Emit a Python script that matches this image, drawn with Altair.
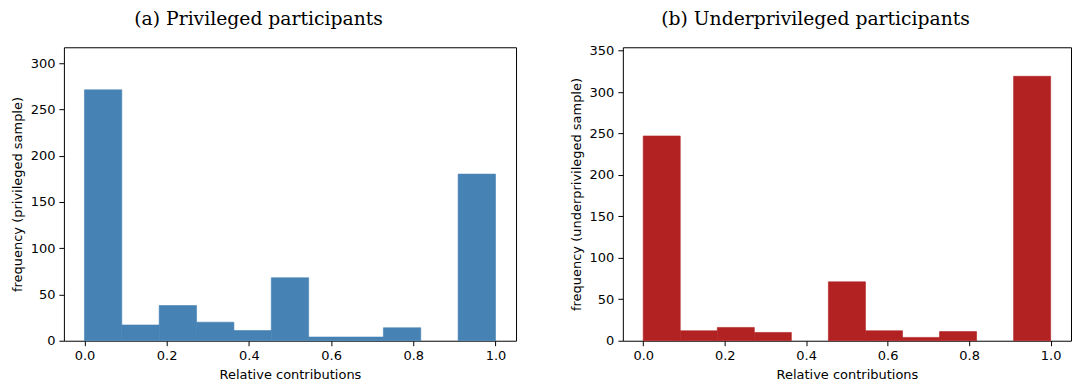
import altair as alt
import pandas as pd

bin_start = [0.0, 0.0909, 0.1818, 0.2727, 0.3636, 0.4545, 0.5455, 0.6364, 0.7273, 0.8182, 0.9091]
bin_end = [0.0909, 0.1818, 0.2727, 0.3636, 0.4545, 0.5455, 0.6364, 0.7273, 0.8182, 0.9091, 1.0]
priv_counts = [271, 17, 38, 20, 11, 68, 4, 4, 14, 0, 180]
under_counts = [247, 12, 16, 10, 0, 71, 12, 4, 11, 0, 319]

x_ticks = [0.0, 0.2, 0.4, 0.6, 0.8, 1.0]
priv_y_ticks = [0, 50, 100, 150, 200, 250, 300]
under_y_ticks = [0, 50, 100, 150, 200, 250, 300, 350]

df_p = pd.DataFrame({"start": bin_start, "end": bin_end, "count": priv_counts})
df_u = pd.DataFrame({"start": bin_start, "end": bin_end, "count": under_counts})


def panel(df, color, title, ytitle, ymax, yticks, width, title_offset):
    return (
        alt.Chart(df)
        .transform_filter("datum.count > 0")
        .mark_bar(color=color, opacity=1, stroke=color, strokeWidth=0.6)
        .encode(
            x=alt.X(
                "start:Q",
                scale=alt.Scale(domain=[-0.05, 1.05], nice=False, zero=False),
                axis=alt.Axis(values=x_ticks, format=".1f", title="Relative contributions"),
            ),
            x2="end:Q",
            y=alt.Y(
                "count:Q",
                scale=alt.Scale(domain=[0, ymax], nice=False),
                axis=alt.Axis(values=yticks, format="d", title=ytitle),
            ),
            y2=alt.datum(0),
        )
        .properties(
            width=width,
            height=294,
            title=alt.TitleParams(
                title, font="DejaVu Serif", fontSize=18.8, fontWeight="normal",
                offset=title_offset, frame="bounds", anchor="middle", dx=-5,
            ),
        )
    )


left = panel(df_p, "#4682B4", "(a) Privileged participants",
             "frequency (privileged sample)", 317, priv_y_ticks, 453, 19)
right = panel(df_u, "#B22222", "(b) Underprivileged participants",
              "frequency (underprivileged sample)", 354, under_y_ticks, 449, 16)

chart = (
    alt.hconcat(left, right, spacing=52)
    .properties(padding={"left": 2, "top": 0, "right": 0, "bottom": 0})
    .configure_view(stroke="black", strokeWidth=1)
    .configure_axis(
        domain=False,
        ticks=True,
        tickColor="black",
        tickSize=5,
        grid=False,
        labelFont="DejaVu Sans",
        labelFontSize=13,
        labelColor="black",
        titleFont="DejaVu Sans",
        titleFontSize=13,
        titleFontWeight="normal",
        titleColor="black",
    )
    .configure_axisY(labelPadding=4, titlePadding=6)
    .configure_axisX(labelPadding=4, titlePadding=6)
    .configure_title(color="black")
)

chart.save("out.html", embed_options={"renderer": "svg", "actions": False})
